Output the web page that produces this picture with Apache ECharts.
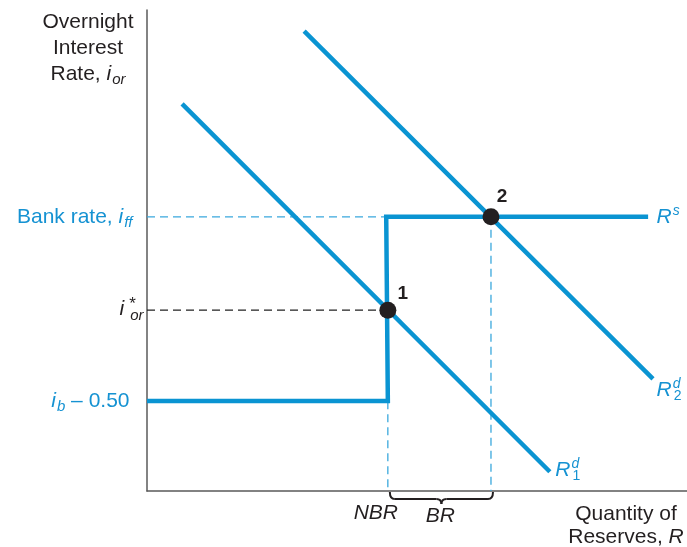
<!DOCTYPE html>
<html><head><meta charset="utf-8">
<script src="https://cdn.jsdelivr.net/npm/echarts@6/dist/echarts.min.js"></script>
<style>html,body{margin:0;padding:0;background:#fff}#c{width:687px;height:547px}</style>
</head><body><div id="c"></div>
<script>
// ---- data (normalized 0-100 units on both axes) ----
const supplyCurve = [[0, 18.7], [44.6, 18.7], [44.3, 57.0], [92.8, 57.0]];
const demandCurve1 = [[6.5, 80.5], [74.6, 4.0]];
const demandCurve2 = [[29.1, 95.6], [93.7, 23.3]];
const equilibria = [[44.6, 37.6], [63.7, 57.0]];
const equilibriumNames = ['1', '2'];
const bankRate = 57.0;
const overnightRate = 37.6;
const floorRate = 18.7;
const nonborrowedReserves = 44.6;
const totalReserves = 63.7;

const FONT = '"Liberation Sans", Arial, Helvetica, sans-serif';
const BLUE = '#0a94d2';
const DASHBLUE = '#3aa8dd';
const TEXTBLUE = '#1592d2';
const DARK = '#231f20';

const rich = {
  n: { fontSize: 21, fontFamily: FONT },
  it: { fontSize: 21, fontFamily: FONT, fontStyle: 'italic' },
  sub: { fontSize: 15, fontFamily: FONT, fontStyle: 'italic', padding: [12, 0, 0, 1] },
  subn: { fontSize: 14, fontFamily: FONT, padding: [12, 0, 0, 1] },
  sup: { fontSize: 14, fontFamily: FONT, fontStyle: 'italic', padding: [0, 0, 12, 1] },
  supz: { fontSize: 14, fontFamily: FONT, fontStyle: 'italic', padding: [0, 0, 12, 1], width: 0 },
  star: { fontSize: 17, fontFamily: FONT, padding: [0, 0, 11, 5], width: 0 }
};

function dashed(data, color) {
  return {
    type: 'line', data: data, symbol: 'none', silent: true, z: 1,
    lineStyle: { color: color, width: 1.3, type: [8, 5] }
  };
}
function solid(data) {
  return {
    type: 'line', data: data, symbol: 'none', silent: true, z: 3,
    lineStyle: { color: BLUE, width: 4.5, join: 'miter', cap: 'butt' }
  };
}
function anchor(pt, label) {
  return { value: pt, label: Object.assign({ show: true, rich: rich, fontFamily: FONT, fontSize: 21 }, label) };
}

const chart = echarts.init(document.getElementById('c'), null, { renderer: 'canvas' });
const lastD1 = demandCurve1[demandCurve1.length - 1];
const lastD2 = demandCurve2[demandCurve2.length - 1];
const lastS = supplyCurve[supplyCurve.length - 1];

chart.setOption({
  animation: false,
  grid: { left: 147, top: 10, right: 0, bottom: 56 },
  xAxis: {
    type: 'value', min: 0, max: 100,
    axisLine: { show: true, lineStyle: { color: '#5a5a5a', width: 1.5 } },
    axisTick: { show: false }, axisLabel: { show: false }, splitLine: { show: false }
  },
  yAxis: {
    type: 'value', min: 0, max: 100,
    axisLine: { show: true, lineStyle: { color: '#5a5a5a', width: 1.5 } },
    axisTick: { show: false }, axisLabel: { show: false }, splitLine: { show: false }
  },
  series: [
    dashed([[0, bankRate], [supplyCurve[2][0], bankRate]], DASHBLUE),
    dashed([[0, overnightRate], [nonborrowedReserves, overnightRate]], '#222'),
    dashed([[nonborrowedReserves, overnightRate], [nonborrowedReserves, 0]], DASHBLUE),
    dashed([[totalReserves, bankRate], [totalReserves, 0]], DASHBLUE),
    solid(supplyCurve),
    solid(demandCurve1),
    solid(demandCurve2),
    {
      type: 'scatter', z: 5, symbolSize: 17, silent: true,
      itemStyle: { color: DARK, opacity: 1 },
      data: equilibria.map((p, i) => ({
        value: p,
        label: {
          show: true, position: 'inside', formatter: equilibriumNames[i],
          offset: i === 0 ? [15, -16] : [11, -20],
          color: DARK, fontWeight: 'bold', fontSize: 19, fontFamily: FONT
        }
      }))
    },
    {
      type: 'scatter', z: 6, symbolSize: 1, silent: true, clip: false,
      itemStyle: { color: 'rgba(0,0,0,0)', opacity: 1 },
      data: [
        anchor(lastS, { position: 'right', distance: 8, color: TEXTBLUE, formatter: '{it|R}{sup|s}' }),
        anchor(lastD1, { position: 'right', distance: 5, offset: [0, -2], color: TEXTBLUE, formatter: '{it|R}{supz|d}{subn|1}' }),
        anchor(lastD2, { position: 'right', distance: 3, offset: [0, 11], color: TEXTBLUE, formatter: '{it|R}{supz|d}{subn|2}' }),
        anchor([0, bankRate], { position: 'left', distance: 14, color: TEXTBLUE, formatter: '{n|Bank rate, }{it|i}{sub|ff}' }),
        anchor([0, overnightRate], { position: [-27, 0], align: 'left', verticalAlign: 'middle', color: DARK, formatter: '{it|i}{star|*}{sub|or}' }),
        anchor([0, floorRate], { position: 'left', distance: 17, color: TEXTBLUE, formatter: '{it|i}{sub|b}{n| – 0.50}' })
      ]
    }
  ]
});

// axis titles, brace and reserve labels positioned from the axis scales
const pN = chart.convertToPixel({ gridIndex: 0 }, [nonborrowedReserves, 0]);
const pT = chart.convertToPixel({ gridIndex: 0 }, [totalReserves, 0]);
const x1 = pN[0] + 2, x2 = pT[0] + 2, yb = pN[1], mid = (x1 + x2) / 2;
const by = yb + 8;
const braceStyle = { stroke: DARK, lineWidth: 2, fill: null };
const brace = [
  { type: 'bezierCurve', shape: { x1: x1, y1: yb + 1, cpx1: x1, cpy1: by, x2: x1 + 5, y2: by } },
  { type: 'line', shape: { x1: x1 + 5, y1: by, x2: mid - 5, y2: by } },
  { type: 'bezierCurve', shape: { x1: mid - 5, y1: by, cpx1: mid, cpy1: by, x2: mid, y2: by + 5 } },
  { type: 'bezierCurve', shape: { x1: mid, y1: by + 5, cpx1: mid, cpy1: by, x2: mid + 5, y2: by } },
  { type: 'line', shape: { x1: mid + 5, y1: by, x2: x2 - 5, y2: by } },
  { type: 'bezierCurve', shape: { x1: x2 - 5, y1: by, cpx1: x2, cpy1: by, x2: x2, y2: yb + 1 } }
].map(e => Object.assign(e, { silent: true, style: braceStyle }));

chart.setOption({
  graphic: [
    {
      type: 'text', x: 88, y: 9, silent: true,
      style: {
        text: 'Overnight\nInterest\nRate, {it|i}{sub|or}', rich: rich,
        font: '21px ' + FONT, lineHeight: 26, fill: DARK, align: 'center', verticalAlign: 'top'
      }
    },
    {
      type: 'text', x: 626, y: 503, silent: true,
      style: {
        text: 'Quantity of\nReserves, {it|R}', rich: rich,
        font: '21px ' + FONT, lineHeight: 23, fill: DARK, align: 'center', verticalAlign: 'top'
      }
    },
    {
      type: 'text', x: pN[0] - 12, y: yb + 22, silent: true,
      style: { text: 'NBR', font: 'italic 21px ' + FONT, fill: DARK, align: 'center', verticalAlign: 'middle' }
    },
    {
      type: 'text', x: (pN[0] + pT[0]) / 2 + 1, y: yb + 25, silent: true,
      style: { text: 'BR', font: 'italic 21px ' + FONT, fill: DARK, align: 'center', verticalAlign: 'middle' }
    }
  ].concat(brace)
});
</script>
</body></html>
